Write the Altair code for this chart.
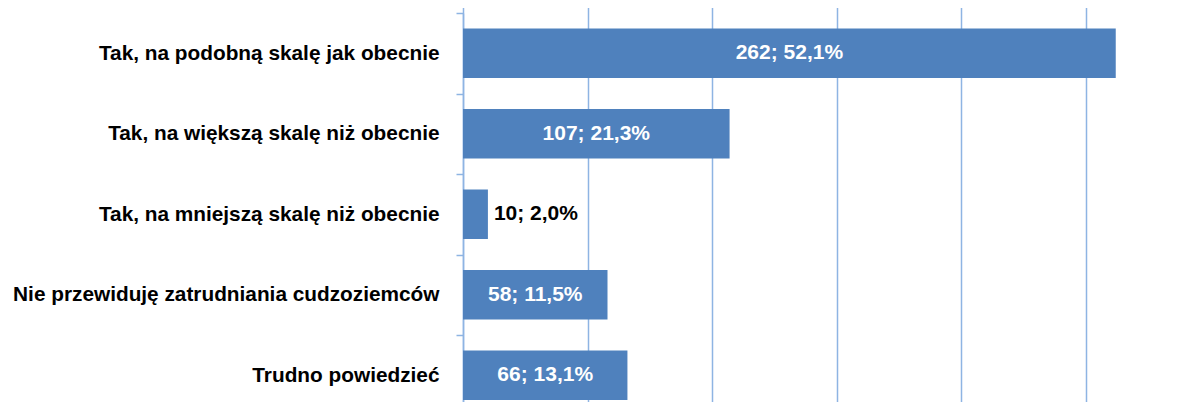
import altair as alt
import pandas as pd

categories = [
    "Tak, na podobną skalę jak obecnie",
    "Tak, na większą skalę niż obecnie",
    "Tak, na mniejszą skalę niż obecnie",
    "Nie przewiduję zatrudniania cudzoziemców",
    "Trudno powiedzieć",
]
counts = [262, 107, 10, 58, 66]
percents = [52.1, 21.3, 2.0, 11.5, 13.1]
label_inside = [True, True, False, True, True]
grid_values = [0, 50, 100, 150, 200, 250]

labels = [f"{c}; {p:.1f}%".replace(".", ",") for c, p in zip(counts, percents)]
df = pd.DataFrame({"cat": categories, "n": counts, "label": labels, "inside": label_inside})

FONT = "Liberation Sans"
BLUE = "#4F81BD"
GRID = "#8EB4E3"

y_enc = alt.Y(
    "cat:N",
    sort=categories,
    scale=alt.Scale(range=[0, 402.5], paddingInner=0, paddingOuter=0),
    axis=alt.Axis(
        title=None,
        tickBand="extent",
        domainColor=GRID,
        domainWidth=1.5,
        tickColor=GRID,
        tickWidth=1.5,
        tickSize=7,
        labelPadding=17,
        labelFont=FONT,
        labelFontWeight="bold",
        labelFontSize=20.8,
        labelColor="#000000",
        labelLimit=1000,
        grid=False,
    ),
)
x_scale = alt.Scale(domain=[0, 290.6], nice=False, zero=True)
x_axis = alt.Axis(
    title=None, labels=False, ticks=False, domain=False, grid=True,
    gridColor=GRID, gridWidth=1.5, values=grid_values,
)

base = alt.Chart(df)

bars = base.mark_bar(size=49.5, color=BLUE).encode(
    x=alt.X("n:Q", scale=x_scale, axis=x_axis),
    y=y_enc,
)

text_in = base.transform_filter("datum.inside").transform_calculate(
    half="datum.n / 2"
).mark_text(
    font=FONT, fontWeight="bold", fontSize=21, color="white", align="center", baseline="middle"
).encode(
    x=alt.X("half:Q", scale=x_scale),
    y=alt.Y("cat:N", sort=categories),
    text="label:N",
)

text_out = base.transform_filter("!datum.inside").mark_text(
    font=FONT, fontWeight="bold", fontSize=21, color="black", align="left", baseline="middle", dx=6
).encode(
    x=alt.X("n:Q", scale=x_scale),
    y=alt.Y("cat:N", sort=categories),
    text="label:N",
)

chart = (
    alt.layer(bars, text_in, text_out)
    .properties(
        width=724,
        height=389,
        autosize=alt.AutoSizeParams(type="none"),
        padding={"left": 455, "top": 5, "right": 0, "bottom": 0},
    )
    .configure_view(stroke=None)
)

chart.save("out.html", embed_options={"renderer": "svg", "actions": False})
